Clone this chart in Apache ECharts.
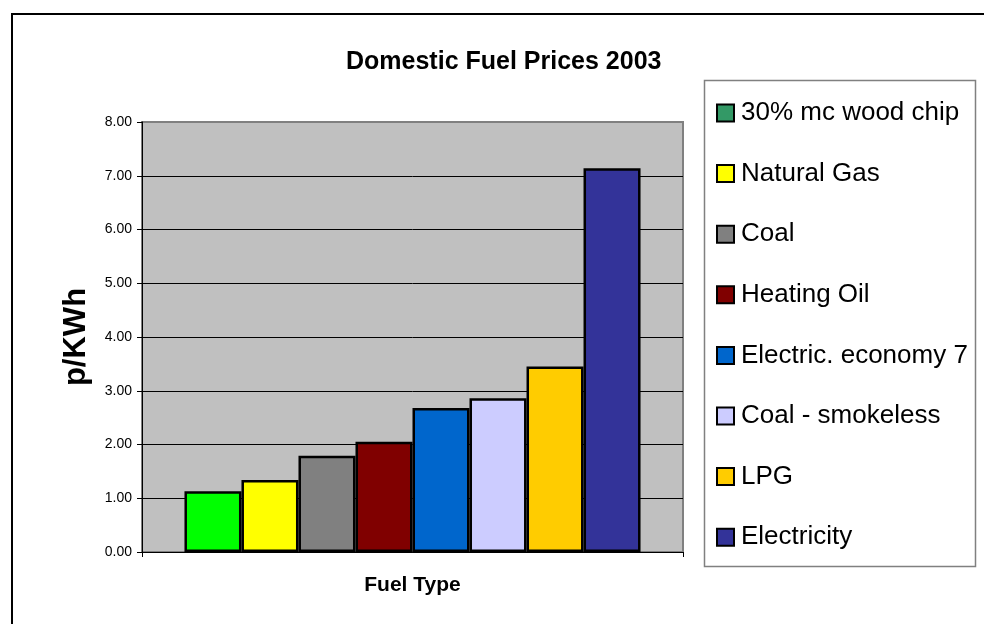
<!DOCTYPE html>
<html>
<head>
<meta charset="utf-8">
<script src="https://cdn.jsdelivr.net/npm/echarts@6/dist/echarts.min.js"></script>
<style>
html,body{margin:0;padding:0;background:#fff;}
#chart{width:984px;height:624px;}
</style>
</head>
<body>
<div id="chart"></div>
<script>
const titleText = 'Domestic Fuel Prices 2003';
const yAxisTitle = 'p/KWh';
const xAxisTitle = 'Fuel Type';
const categories = [''];
const fuels = ['30% mc wood chip', 'Natural Gas', 'Coal', 'Heating Oil', 'Electric. economy 7', 'Coal - smokeless', 'LPG', 'Electricity'];
const prices = [1.13, 1.34, 1.79, 2.05, 2.68, 2.86, 3.45, 7.14];
const barColors = ['#00FF00', '#FFFF00', '#808080', '#800000', '#0066CC', '#CCCCFF', '#FFCC00', '#333399'];
const legendColors = ['#339966', '#FFFF00', '#808080', '#800000', '#0066CC', '#CCCCFF', '#FFCC00', '#333399'];
const yMin = 0, yMax = 8, yStep = 1;

const FONT = "'Liberation Sans', Arial, sans-serif";
const chart = echarts.init(document.getElementById('chart'), null, {renderer: 'canvas'});

const series = fuels.map((name, i) => ({
  name: name,
  type: 'bar',
  data: [prices[i]],
  barGap: '0%',
  barCategoryGap: '15.7%',
  itemStyle: {color: barColors[i], borderColor: '#000', borderWidth: 2.5},
  emphasis: {disabled: true}
}));

const splitColors = [];
for (let v = yMin; v <= yMax; v += yStep) splitColors.push(v === yMax ? '#808080' : '#000');

chart.setOption({
  animation: false,
  backgroundColor: '#fff',
  title: {
    text: titleText,
    left: 346, top: 50, padding: 0,
    textStyle: {fontFamily: FONT, fontSize: 25, fontWeight: 'bold', color: '#000'}
  },
  grid: {
    left: 142, right: 301, top: 122, bottom: 72,
    show: true, backgroundColor: '#C0C0C0', borderColor: '#808080', borderWidth: 2,
    containLabel: false
  },
  legend: {
    orient: 'vertical',
    left: 716, top: 98, padding: 0,
    itemWidth: 17, itemHeight: 17, itemGap: 30.6,
    icon: 'rect',
    selectedMode: false,
    textStyle: {fontFamily: FONT, fontSize: 26, color: '#000', lineHeight: 30, padding: [0, 0, 0, 2]},
    data: fuels.map((n, i) => ({name: n, itemStyle: {color: legendColors[i], borderColor: '#000', borderWidth: 2}}))
  },
  xAxis: {
    type: 'category',
    data: categories,
    boundaryGap: true,
    name: xAxisTitle,
    nameLocation: 'middle',
    nameGap: 23,
    nameTextStyle: {fontFamily: FONT, fontSize: 21, fontWeight: 'bold', color: '#000'},
    axisLine: {lineStyle: {color: '#000', width: 1}},
    axisTick: {show: true, length: 5, lineStyle: {color: '#000'}},
    axisLabel: {show: false}
  },
  yAxis: {
    type: 'value',
    min: yMin, max: yMax, interval: yStep,
    axisLine: {show: true, lineStyle: {color: '#000', width: 1}},
    axisTick: {show: true, length: 5, lineStyle: {color: '#000'}},
    axisLabel: {margin: 10, fontFamily: FONT, fontSize: 14, color: '#000', formatter: v => v.toFixed(2)},
    splitLine: {show: true, lineStyle: {color: splitColors, width: 1}}
  },
  graphic: [
    {type: 'rect', shape: {x: 704.5, y: 80.5, width: 271, height: 486}, style: {fill: '#fff', stroke: '#808080', lineWidth: 1.5}, z: -1, silent: true},
    {type: 'line', shape: {x1: 11, y1: 14, x2: 984, y2: 14}, style: {stroke: '#000', lineWidth: 2}, silent: true},
    {type: 'line', shape: {x1: 12, y1: 13, x2: 12, y2: 624}, style: {stroke: '#000', lineWidth: 2}, silent: true},
    {type: 'text', x: 76, y: 337, rotation: Math.PI / 2,
     style: {text: yAxisTitle, fontFamily: FONT, fontSize: 31, fontWeight: 'bold', fill: '#000', align: 'center', verticalAlign: 'middle'}, silent: true}
  ],
  series: series
});
</script>
</body>
</html>
